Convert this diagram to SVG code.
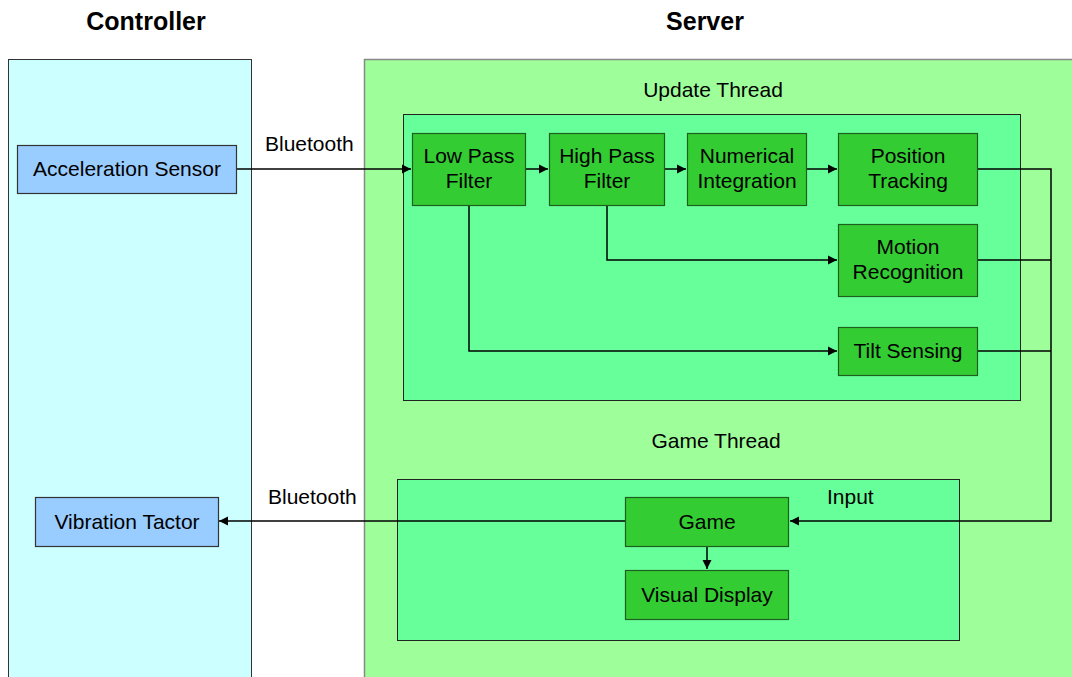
<svg xmlns="http://www.w3.org/2000/svg" width="1072" height="677" viewBox="0 0 1072 677">
  <defs>
    <marker id="arrow" viewBox="0 0 10 10" refX="10" refY="5" markerWidth="9" markerHeight="10" markerUnits="userSpaceOnUse" orient="auto">
      <path d="M0,0 L10,5 L0,10 z" fill="#000"/>
    </marker>
    <style>
      text { font-family: "Liberation Sans", Arial, sans-serif; font-size: 21px; fill: #000; }
      .title { font-size: 25px; font-weight: bold; text-anchor: middle; }
      .c { text-anchor: middle; }
      .panel-ctrl { fill: #CCFFFF; stroke: #333; stroke-width: 1; }
      .panel-srv { fill: #9EFF9A; stroke: #888; stroke-width: 1.5; }
      .thread { fill: #66FF99; stroke: #222; stroke-width: 1; }
      .blk { fill: #33CC33; stroke: #1E5E1E; stroke-width: 1.2; }
      .dev { fill: #99CCFF; stroke: #333; stroke-width: 1.2; }
      .wire { fill: none; stroke: #000; stroke-width: 1.5; }
    </style>
  </defs>

  <rect width="1072" height="677" fill="#fff"/>

  <!-- swimlanes -->
  <g id="controller">
    <rect class="panel-ctrl" x="8.5" y="59.5" width="243" height="630"/>
    <text class="title" x="146" y="30">Controller</text>
  </g>
  <g id="server">
    <rect class="panel-srv" x="364.5" y="59.5" width="720" height="630"/>
    <text class="title" x="705" y="30">Server</text>
  </g>

  <!-- thread containers -->
  <g id="update-thread">
    <rect class="thread" x="403.5" y="114.5" width="617" height="286"/>
    <text class="c" x="713" y="97">Update Thread</text>
  </g>
  <g id="game-thread">
    <rect class="thread" x="397.5" y="479.5" width="562" height="161"/>
    <text class="c" x="716" y="448">Game Thread</text>
  </g>

  <!-- connectors -->
  <g id="connectors">
    <path class="wire" d="M237,169 H411" marker-end="url(#arrow)"/>
    <path class="wire" d="M525,169 H548" marker-end="url(#arrow)"/>
    <path class="wire" d="M665,169 H686" marker-end="url(#arrow)"/>
    <path class="wire" d="M807,169 H837" marker-end="url(#arrow)"/>
    <path class="wire" d="M607,205 V260 H837" marker-end="url(#arrow)"/>
    <path class="wire" d="M469,205 V351 H837" marker-end="url(#arrow)"/>
    <path class="wire" d="M978,169 H1051 V521 H790" marker-end="url(#arrow)"/>
    <path class="wire" d="M978,260 H1051"/>
    <path class="wire" d="M978,351 H1051"/>
    <path class="wire" d="M625,521 H219" marker-end="url(#arrow)"/>
    <path class="wire" d="M707,546 V569" marker-end="url(#arrow)"/>
    <text x="265" y="151">Bluetooth</text>
    <text x="268" y="504">Bluetooth</text>
    <text x="827" y="504">Input</text>
  </g>

  <!-- nodes -->
  <g id="acceleration-sensor">
    <rect class="dev" x="17.5" y="145.5" width="219" height="48"/>
    <text class="c" x="127" y="176">Acceleration Sensor</text>
  </g>
  <g id="vibration-tactor">
    <rect class="dev" x="35.5" y="497.5" width="183" height="49"/>
    <text class="c" x="127" y="529">Vibration Tactor</text>
  </g>
  <g id="low-pass-filter">
    <rect class="blk" x="412.5" y="133.5" width="113" height="72"/>
    <text class="c" x="469" y="163">Low Pass</text>
    <text class="c" x="469" y="188">Filter</text>
  </g>
  <g id="high-pass-filter">
    <rect class="blk" x="549.5" y="133.5" width="115" height="72"/>
    <text class="c" x="607" y="163">High Pass</text>
    <text class="c" x="607" y="188">Filter</text>
  </g>
  <g id="numerical-integration">
    <rect class="blk" x="687.5" y="133.5" width="119" height="72"/>
    <text class="c" x="747" y="163">Numerical</text>
    <text class="c" x="747" y="188">Integration</text>
  </g>
  <g id="position-tracking">
    <rect class="blk" x="838.5" y="133.5" width="139" height="72"/>
    <text class="c" x="908" y="163">Position</text>
    <text class="c" x="908" y="188">Tracking</text>
  </g>
  <g id="motion-recognition">
    <rect class="blk" x="838.5" y="224.5" width="139" height="72"/>
    <text class="c" x="908" y="254">Motion</text>
    <text class="c" x="908" y="279">Recognition</text>
  </g>
  <g id="tilt-sensing">
    <rect class="blk" x="838.5" y="327.5" width="139" height="48"/>
    <text class="c" x="908" y="358">Tilt Sensing</text>
  </g>
  <g id="game">
    <rect class="blk" x="625.5" y="497.5" width="163" height="49"/>
    <text class="c" x="707" y="529">Game</text>
  </g>
  <g id="visual-display">
    <rect class="blk" x="625.5" y="570.5" width="163" height="49"/>
    <text class="c" x="707" y="602">Visual Display</text>
  </g>
</svg>
